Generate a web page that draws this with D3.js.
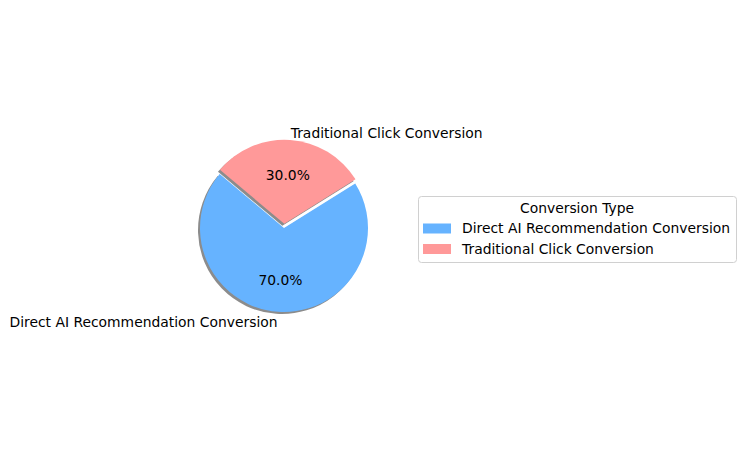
<!DOCTYPE html>
<html>
<head>
<meta charset="utf-8">
<script src="https://cdn.jsdelivr.net/npm/d3@7"></script>
<style>
  body { margin: 0; background: #fff; }
  svg text { font-family: "DejaVu Sans", sans-serif; font-size: 13.89px; fill: #000; }
</style>
</head>
<body>
<div id="chart"></div>
<script>
var width = 745;
var height = 457;

// data
var labels = ["Direct AI Recommendation Conversion", "Traditional Click Conversion"];
var values = [70, 30];
var colors = ["#66b3ff", "#ff9999"];
var explode = [0, 0.05];
var legendTitle = "Conversion Type";

var cx = 284, cy = 228, r = 84;
var startAngle = 140; // degrees, counter-clockwise from 3 o'clock like matplotlib

var svg = d3.select("#chart")
            .append("svg")
            .attr("width", width)
            .attr("height", height);

var total = d3.sum(values);
// d3 angles: 0 at 12 o'clock, clockwise. matplotlib angle a -> d3 angle (90 - a)
var slices = [];
var acc = startAngle;
for (var i = 0; i < values.length; i++) {
  var span = values[i] / total * 360;
  var a0 = acc, a1 = acc + span;
  var mid = (a0 + a1) / 2 * Math.PI / 180;
  slices.push({
    i: i,
    startAngle: (90 - a1) * Math.PI / 180,
    endAngle: (90 - a0) * Math.PI / 180,
    mid: mid,
    dx: explode[i] * r * Math.cos(mid),
    dy: -explode[i] * r * Math.sin(mid)
  });
  acc = a1;
}

var arc = d3.arc().innerRadius(0).outerRadius(r);

// shadows
svg.append("g")
   .attr("transform", "translate(" + (cx - 2) + "," + (cy + 2) + ")")
   .selectAll("path")
   .data(slices)
   .enter()
   .append("path")
   .attr("transform", function(d){ return "translate(" + d.dx + "," + d.dy + ")"; })
   .attr("d", arc)
   .attr("fill", "#000")
   .attr("fill-opacity", 0.45);

var g = svg.append("g")
           .attr("transform", "translate(" + cx + "," + cy + ")");

g.selectAll("path.slice")
 .data(slices)
 .enter()
 .append("path")
 .attr("class", "slice")
 .attr("transform", function(d){ return "translate(" + d.dx + "," + d.dy + ")"; })
 .attr("d", arc)
 .attr("fill", function(d){ return colors[d.i]; });

// outer labels
g.selectAll("text.lbl")
 .data(slices)
 .enter()
 .append("text")
 .attr("class", "lbl")
 .attr("x", function(d){ return d.dx + 1.1 * r * Math.cos(d.mid); })
 .attr("y", function(d){ return d.dy - 1.1 * r * Math.sin(d.mid) + 1.5; })
 .attr("dy", "0.35em")
 .attr("text-anchor", function(d){ return Math.cos(d.mid) > 0 ? "start" : "end"; })
 .text(function(d){ return labels[d.i]; });

// percentages
g.selectAll("text.pct")
 .data(slices)
 .enter()
 .append("text")
 .attr("class", "pct")
 .attr("x", function(d){ return d.dx + 0.6 * r * Math.cos(d.mid); })
 .attr("y", function(d){ return d.dy - 0.6 * r * Math.sin(d.mid) + 1.5; })
 .attr("dy", "0.35em")
 .attr("text-anchor", "middle")
 .text(function(d){ return (values[d.i] / total * 100).toFixed(1) + "%"; });

// legend
var legend = svg.append("g").attr("transform", "translate(418,196)");
legend.append("rect")
      .attr("x", 0.5).attr("y", 0.5)
      .attr("width", 318).attr("height", 66)
      .attr("rx", 3)
      .attr("fill", "#fff")
      .attr("fill-opacity", 0.8)
      .attr("stroke", "#d0d0d0");
legend.append("text")
      .attr("x", 159).attr("y", 12)
      .attr("dy", "0.35em")
      .attr("text-anchor", "middle")
      .text(legendTitle);
var items = legend.selectAll("g.item")
                  .data(labels)
                  .enter()
                  .append("g")
                  .attr("class", "item")
                  .attr("transform", function(d, i){ return "translate(0," + (32.5 + i * 20.5) + ")"; });
items.append("rect")
     .attr("x", 5).attr("y", -5)
     .attr("width", 28).attr("height", 10)
     .attr("fill", function(d, i){ return colors[i]; });
items.append("text")
     .attr("x", 44).attr("y", 0)
     .attr("dy", "0.35em")
     .text(function(d){ return d; });
</script>
</body>
</html>
